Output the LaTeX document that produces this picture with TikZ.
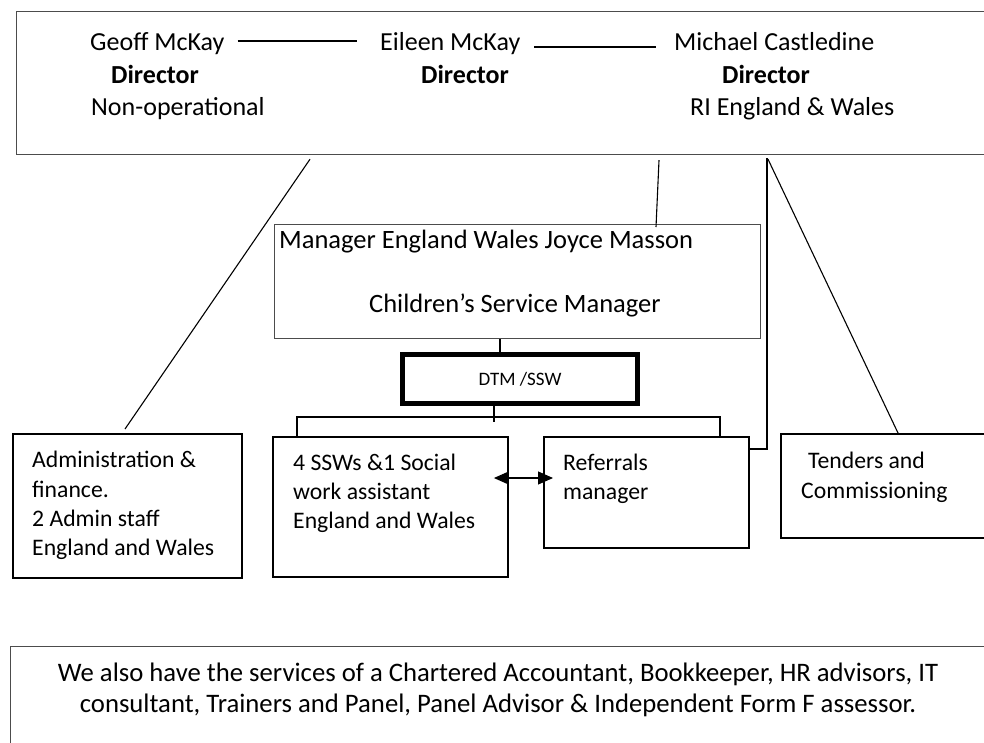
\documentclass[tikz,border=0pt]{standalone}
\usepackage{fontspec}
\setmainfont{Carlito}
\usetikzlibrary{arrows.meta}
\begin{document}
\begin{tikzpicture}[x=1pt,y=-1pt,
  thinbox/.style={draw=black!70,line width=1.2pt,inner sep=0,anchor=north west},
  blkbox/.style={draw=black,line width=1.9pt,inner sep=0,anchor=north west},
  dtmbox/.style={draw=black,line width=5pt,inner sep=0,anchor=north west},
  conn/.style={draw=black,line width=1.1pt},
  tbig/.style={inner sep=0,anchor=base west,font=\fontsize{26}{31}\selectfont},
  tbold/.style={inner sep=0,anchor=base west,font=\fontsize{26}{31}\selectfont\bfseries},
  tmid/.style={inner sep=0,anchor=base west,font=\fontsize{23.7}{29}\selectfont},
  tctr/.style={inner sep=0,anchor=base,font=\fontsize{26.7}{31}\selectfont},
  dual/.style={{Triangle[length=15pt,width=13pt]}-{Triangle[length=15pt,width=13pt]}}
]
\useasboundingbox (0,0) rectangle (984,742);
% boxes
\node[thinbox,minimum width=990pt,minimum height=143pt] (top) at (16,11) {};
\node[thinbox,minimum width=486pt,minimum height=114pt] (mgr) at (274,224) {};
\node[dtmbox,minimum width=235pt,minimum height=49pt,font=\fontsize{19}{23}\selectfont] (dtm) at (400,352) {DTM /SSW};
\node[blkbox,minimum width=229pt,minimum height=144pt] (admin) at (12,433) {};
\node[blkbox,minimum width=235pt,minimum height=140pt] (ssw) at (272,436) {};
\node[blkbox,minimum width=205pt,minimum height=111pt] (ref) at (543,436) {};
\node[blkbox,minimum width=230pt,minimum height=104pt] (tend) at (780,433) {};
\node[thinbox,minimum width=1000pt,minimum height=120pt] (bot) at (10,646) {};
% top texts
\node[tbig] (geoff) at (90,50) {Geoff McKay};
\node[tbig] (eileen) at (380,50) {Eileen McKay};
\node[tbig] (michael) at (674,50) {Michael Castledine};
\node[tbold] (dir1) at (111,83) {Director};
\node[tbold] (dir2) at (421,83) {Director};
\node[tbold] (dir3) at (722,83) {Director};
\node[tbig] (nonop) at (91,115) {Non-operational};
\node[tbig] (ri) at (690,115) {RI England \& Wales};
\draw[conn] ([shift={(13,-9)}]geoff.base east) -- ([shift={(-23,-9)}]eileen.base west);
\draw[conn] ([shift={(14,-3)}]eileen.base east) -- ([shift={(-18,-3)}]michael.base west);
% manager texts
\node[inner sep=0,anchor=base west,font=\fontsize{26.5}{31}\selectfont] (mgr1) at (279,248) {Manager England Wales Joyce Masson};
\node[inner sep=0,anchor=base west,font=\fontsize{26.5}{31}\selectfont] (mgr2) at (369,312) {Children’s Service Manager};
% lower texts
\node[tmid] (ad1) at (32,467) {Administration \&};
\node[tmid] (ad2) at (32,497) {finance.};
\node[tmid] (ad3) at (32,526) {2 Admin staff};
\node[tmid] (ad4) at (32,555) {England and Wales};
\node[tmid] (ss1) at (293,470) {4 SSWs \&1 Social};
\node[tmid] (ss2) at (293,499) {work assistant};
\node[tmid] (ss3) at (293,528) {England and Wales};
\node[tmid] (rf1) at (563,470) {Referrals};
\node[tmid] (rf2) at (563,499) {manager};
\node[tmid] (te1) at (808,468) {Tenders and};
\node[tmid] (te2) at (801,498) {Commissioning};
\node[tctr] (b1) at (498,681) {We also have the services of a Chartered Accountant, Bookkeeper, HR advisors, IT};
\node[tctr] (b2) at (498,712) {consultant, Trainers and Panel, Panel Advisor \& Independent Form F assessor.};
% connectors
\draw[conn] ([shift={(294,4)}]top.south west) -- ([shift={(113,-4)}]admin.north west);
\draw[conn] ([shift={(643,5)}]top.south west) -- ([shift={(382,3)}]mgr.north west);
\draw[conn] ([shift={(752,4)}]top.south west) -- ([shift={(118,0)}]tend.north west);
\draw[conn] ([shift={(751,3)}]top.south west) |- ([shift={(0,13)}]ref.north east);
\draw[conn] ([xshift=226pt]mgr.south west) -- ([xshift=100pt]dtm.north west);
\draw[conn] ([xshift=94pt]dtm.south west) -- ++(0,16);
\draw[conn] ([xshift=25pt]ssw.north west) -- ++(0,-19) -| ([xshift=177pt]ref.north west);
\draw[conn,dual] ([shift={(-15,42)}]ssw.north east) -- ([shift={(10,42)}]ref.north west);
\end{tikzpicture}
\end{document}
